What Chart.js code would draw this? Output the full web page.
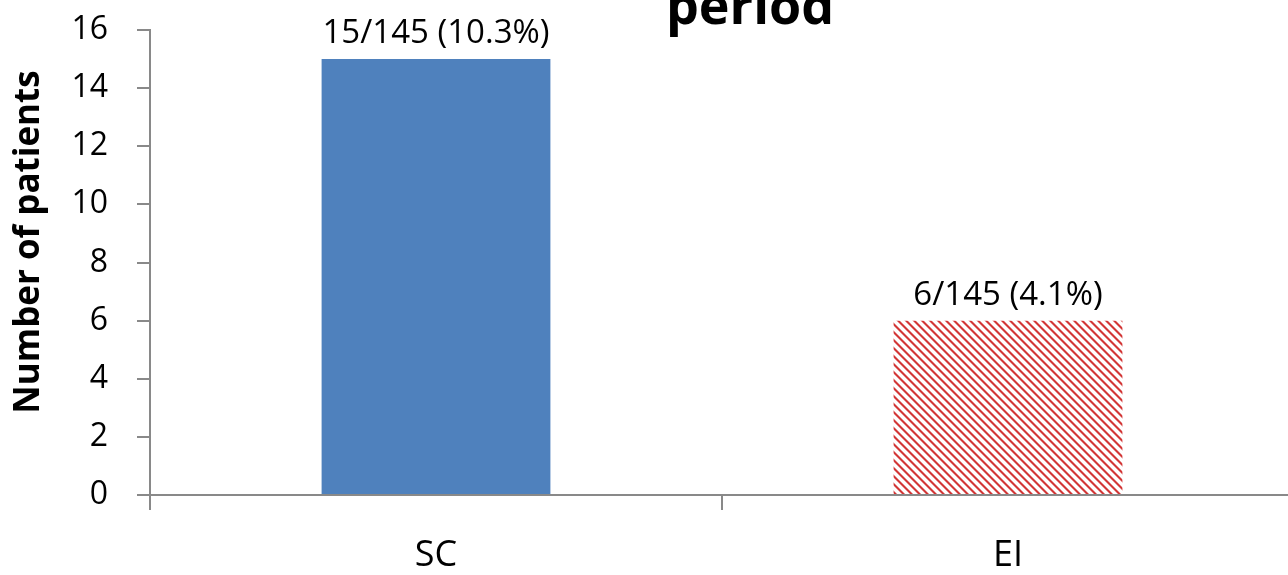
<!DOCTYPE html>
<html>
<head>
<meta charset="utf-8">
<script src="https://cdn.jsdelivr.net/npm/chart.js@4"></script>
<style>
  html, body { margin: 0; padding: 0; background: #fff; overflow: hidden; }
  #wrap { position: relative; width: 1300px; height: 575px; }
</style>
</head>
<body>
<div id="wrap"><canvas id="chart"></canvas></div>
<script>
// Patients with an event, per group
const groups = ['SC', 'EI'];
const patientCounts = [15, 6];
const groupTotals = [145, 145];
const yTicks = { min: 0, max: 16, step: 2 };
const titleText = 'period';
const yTitle = 'Number of patients';

const FONT = '"Open Sans", "Noto Sans", "Liberation Sans", sans-serif';
const AXIS_GREY = '#898989';

// Diagonal red stripe fill for the second group
function stripePattern() {
  const c = document.createElement('canvas');
  c.width = 8; c.height = 8;
  const g = c.getContext('2d');
  g.fillStyle = '#ffffff';
  g.fillRect(0, 0, 8, 8);
  const shades = { 0: '#e89c9c', 1: '#d33636', 2: '#d33636', 3: '#e89c9c' };
  for (let y = 0; y < 8; y++) {
    for (let x = 0; x < 8; x++) {
      const d = ((x - y) % 8 + 8) % 8;
      if (shades[d]) { g.fillStyle = shades[d]; g.fillRect(x, y, 1, 1); }
    }
  }
  return g.createPattern(c, 'repeat');
}

const barLabels = patientCounts.map((n, i) =>
  `${n}/${groupTotals[i]} (${(100 * n / groupTotals[i]).toFixed(1)}%)`);

// Writes "n/total (pct%)" above each bar
const valueLabels = {
  id: 'valueLabels',
  afterDatasetsDraw(chart) {
    const ctx = chart.ctx;
    const meta = chart.getDatasetMeta(0);
    ctx.save();
    ctx.font = `33px ${FONT}`;
    ctx.fillStyle = '#000';
    ctx.textAlign = 'center';
    ctx.textBaseline = 'alphabetic';
    meta.data.forEach((bar, i) => {
      ctx.fillText(barLabels[i], bar.x, bar.y - 16);
    });
    ctx.restore();
  }
};

// Heading's last line at the top edge and the rotated y-axis caption
const textLayer = {
  id: 'textLayer',
  afterDraw(chart) {
    const ctx = chart.ctx;
    ctx.save();
    ctx.fillStyle = '#000';
    ctx.textAlign = 'center';
    ctx.textBaseline = 'alphabetic';
    ctx.font = `bold 52px ${FONT}`;
    ctx.fillText(titleText, 750, 24);

    ctx.translate(29, 242);
    ctx.rotate(-Math.PI / 2);
    ctx.textBaseline = 'middle';
    ctx.font = `bold 35px ${FONT}`;
    ctx.fillText(yTitle, 0, 0);
    ctx.restore();
  }
};

const ctx = document.getElementById('chart').getContext('2d');
new Chart(ctx, {
  type: 'bar',
  data: {
    labels: groups,
    datasets: [{
      data: patientCounts,
      backgroundColor: ['#4F81BD', stripePattern()],
      borderWidth: 0,
      barPercentage: 0.4,
      categoryPercentage: 1.0
    }]
  },
  options: {
    responsive: true,
    maintainAspectRatio: false,
    animation: false,
    layout: { padding: { top: 30, right: 6, left: 0, bottom: 0 } },
    plugins: {
      legend: { display: false },
      tooltip: { enabled: false },
      title: { display: false }
    },
    scales: {
      x: {
        offset: true,
        grid: {
          offset: true,
          drawOnChartArea: false,
          drawTicks: true,
          tickLength: 15,
          color: AXIS_GREY,
          lineWidth: 2
        },
        border: { color: AXIS_GREY, width: 2 },
        ticks: {
          color: '#000',
          font: { family: FONT, size: 36 },
          padding: 24
        },
        afterFit(s) { s.height = 80; s.paddingLeft = 0; s.paddingRight = 0; }
      },
      y: {
        min: yTicks.min,
        max: yTicks.max,
        grid: {
          drawOnChartArea: false,
          drawTicks: true,
          tickLength: 13,
          color: AXIS_GREY,
          lineWidth: 2
        },
        border: { color: AXIS_GREY, width: 2 },
        ticks: {
          stepSize: yTicks.step,
          color: '#000',
          font: { family: FONT, size: 32 },
          padding: 29
        },
        afterFit(s) { s.width = 150; s.paddingTop = 0; s.paddingBottom = 0; }
      }
    }
  },
  plugins: [valueLabels, textLayer]
});
</script>
</body>
</html>
